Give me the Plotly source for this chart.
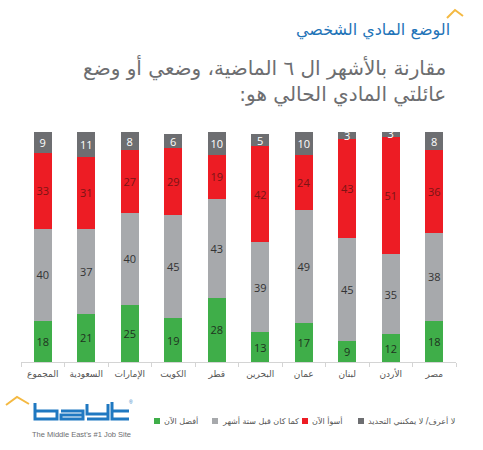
import plotly.graph_objects as go

categories = ["المجموع", "السعودية", "الإمارات", "الكويت", "قطر",
              "البحرين", "عمان", "لبنان", "الأردن", "مصر"]
better_now = [18, 21, 25, 19, 28, 13, 17, 9, 12, 18]
same_as_before = [40, 37, 40, 45, 43, 39, 49, 45, 35, 38]
worse_now = [33, 31, 27, 29, 19, 42, 24, 43, 51, 36]
dont_know = [9, 11, 8, 6, 10, 5, 10, 3, 3, 8]

series_names = ["أفضل الآن", "كما كان قبل ستة أشهر", "أسوأ الآن", "لا أعرف/ لا يمكنني التحديد"]
series_values = [better_now, same_as_before, worse_now, dont_know]
series_colors = ["#3fae49", "#a7a9ac", "#ed1c24", "#6d6e71"]
label_colors = ["#1e3320", "#333333", "#7a1414", "#ffffff"]

title_text = "الوضع المادي الشخصي"
subtitle_text = "مقارنة بالأشهر ال ٦ الماضية، وضعي أو وضع<br>عائلتي المادي الحالي هو:\u200f"

W, H = 483, 450
ML, MR, MT, MB = 21, 27, 132, 88
PW, PH = W - ML - MR, H - MT - MB
AR = "DejaVu Sans"
BLUE = "#1f78c1"
GOLD = "#f4b942"


def px(x):
    return (x - ML) / PW


def py(y):
    return (H - MB - y) / PH


def path(pts_groups):
    s = ""
    for pts in pts_groups:
        s += "M " + " L ".join(f"{px(a)},{py(b)}" for a, b in pts) + " "
    return s.strip()


fig = go.Figure()
for name, vals, col, lcol in zip(series_names, series_values, series_colors, label_colors):
    fig.add_trace(go.Bar(
        x=categories, y=vals, name=name, marker=dict(color=col, line=dict(width=0)),
        text=[str(v) for v in vals], textposition="inside", insidetextanchor="middle",
        textfont=dict(color=lcol, size=11, family="Open Sans"), textangle=0,
        constraintext="none", showlegend=False,
    ))

annotations = [
    dict(text=title_text, x=px(452), y=py(30), xref="paper", yref="paper",
         xanchor="right", yanchor="middle", showarrow=False,
         font=dict(family=AR, size=16, color="#1f74b8")),
    dict(text=subtitle_text, x=px(448), y=py(81), xref="paper", yref="paper",
         xanchor="right", yanchor="middle", align="right", showarrow=False,
         font=dict(family=AR, size=20, color="#6d6e71")),
    dict(text="The Middle East's #1 Job Site", x=px(81), y=py(434), xref="paper", yref="paper",
         xanchor="center", yanchor="middle", showarrow=False,
         font=dict(family="Liberation Sans", size=7.5, color="#6d6e71")),
    dict(text="®", x=px(131), y=py(402), xref="paper", yref="paper",
         xanchor="center", yanchor="middle", showarrow=False,
         font=dict(family="Liberation Sans", size=5, color=BLUE)),
]

shapes = [
    dict(type="path", xref="paper", yref="paper",
         path=path([[(447, 18), (455, 10), (463, 16)]]),
         line=dict(color=GOLD, width=2)),
    dict(type="path", xref="paper", yref="paper",
         path=path([[(6, 405), (17, 397), (29, 404)]]),
         line=dict(color=GOLD, width=2)),
    # bayt logotype
    dict(type="path", xref="paper", yref="paper",
         path=path([
             [(35, 403), (35, 419), (57, 419), (57, 411), (35, 411)],
             [(61, 411), (83, 411), (83, 419), (61, 419), (61, 415), (83, 415)],
             [(87, 404), (87, 414), (108, 414)],
             [(108, 404), (108, 419), (87, 419)],
             [(112, 402), (112, 419), (129, 419)],
             [(112, 411), (129, 411)],
         ]),
         line=dict(color=BLUE, width=3)),
]

legend_sq = [154, 212, 302, 358]
for name, col, sx in zip(series_names, series_colors, legend_sq):
    shapes.append(dict(type="rect", xref="paper", yref="paper",
                       x0=px(sx), x1=px(sx + 6), y0=py(424), y1=py(418),
                       fillcolor=col, line=dict(width=0)))
    annotations.append(dict(text=name, x=px(sx + 8), y=py(421), xref="paper", yref="paper",
                            xanchor="left", yanchor="middle", showarrow=False,
                            font=dict(family=AR, size=8, color="#555555")))

fig.update_layout(
    width=W, height=H, barmode="stack", bargap=0.59,
    margin=dict(l=ML, r=MR, t=MT, b=MB, pad=0),
    paper_bgcolor="white", plot_bgcolor="white",
    uniformtext=dict(minsize=8, mode="show"),
    xaxis=dict(showline=True, linecolor="#d4d4d4", linewidth=1, ticks="outside",
               tickson="boundaries", ticklen=4, tickcolor="#d4d4d4", tickangle=0,
               ticklabelstandoff=3,
               tickfont=dict(family=AR, size=9, color="#555555"), showgrid=False),
    yaxis=dict(range=[0, 100], visible=False, showgrid=False),
    annotations=annotations, shapes=shapes, showlegend=False,
)

fig.write_html("out.html")
